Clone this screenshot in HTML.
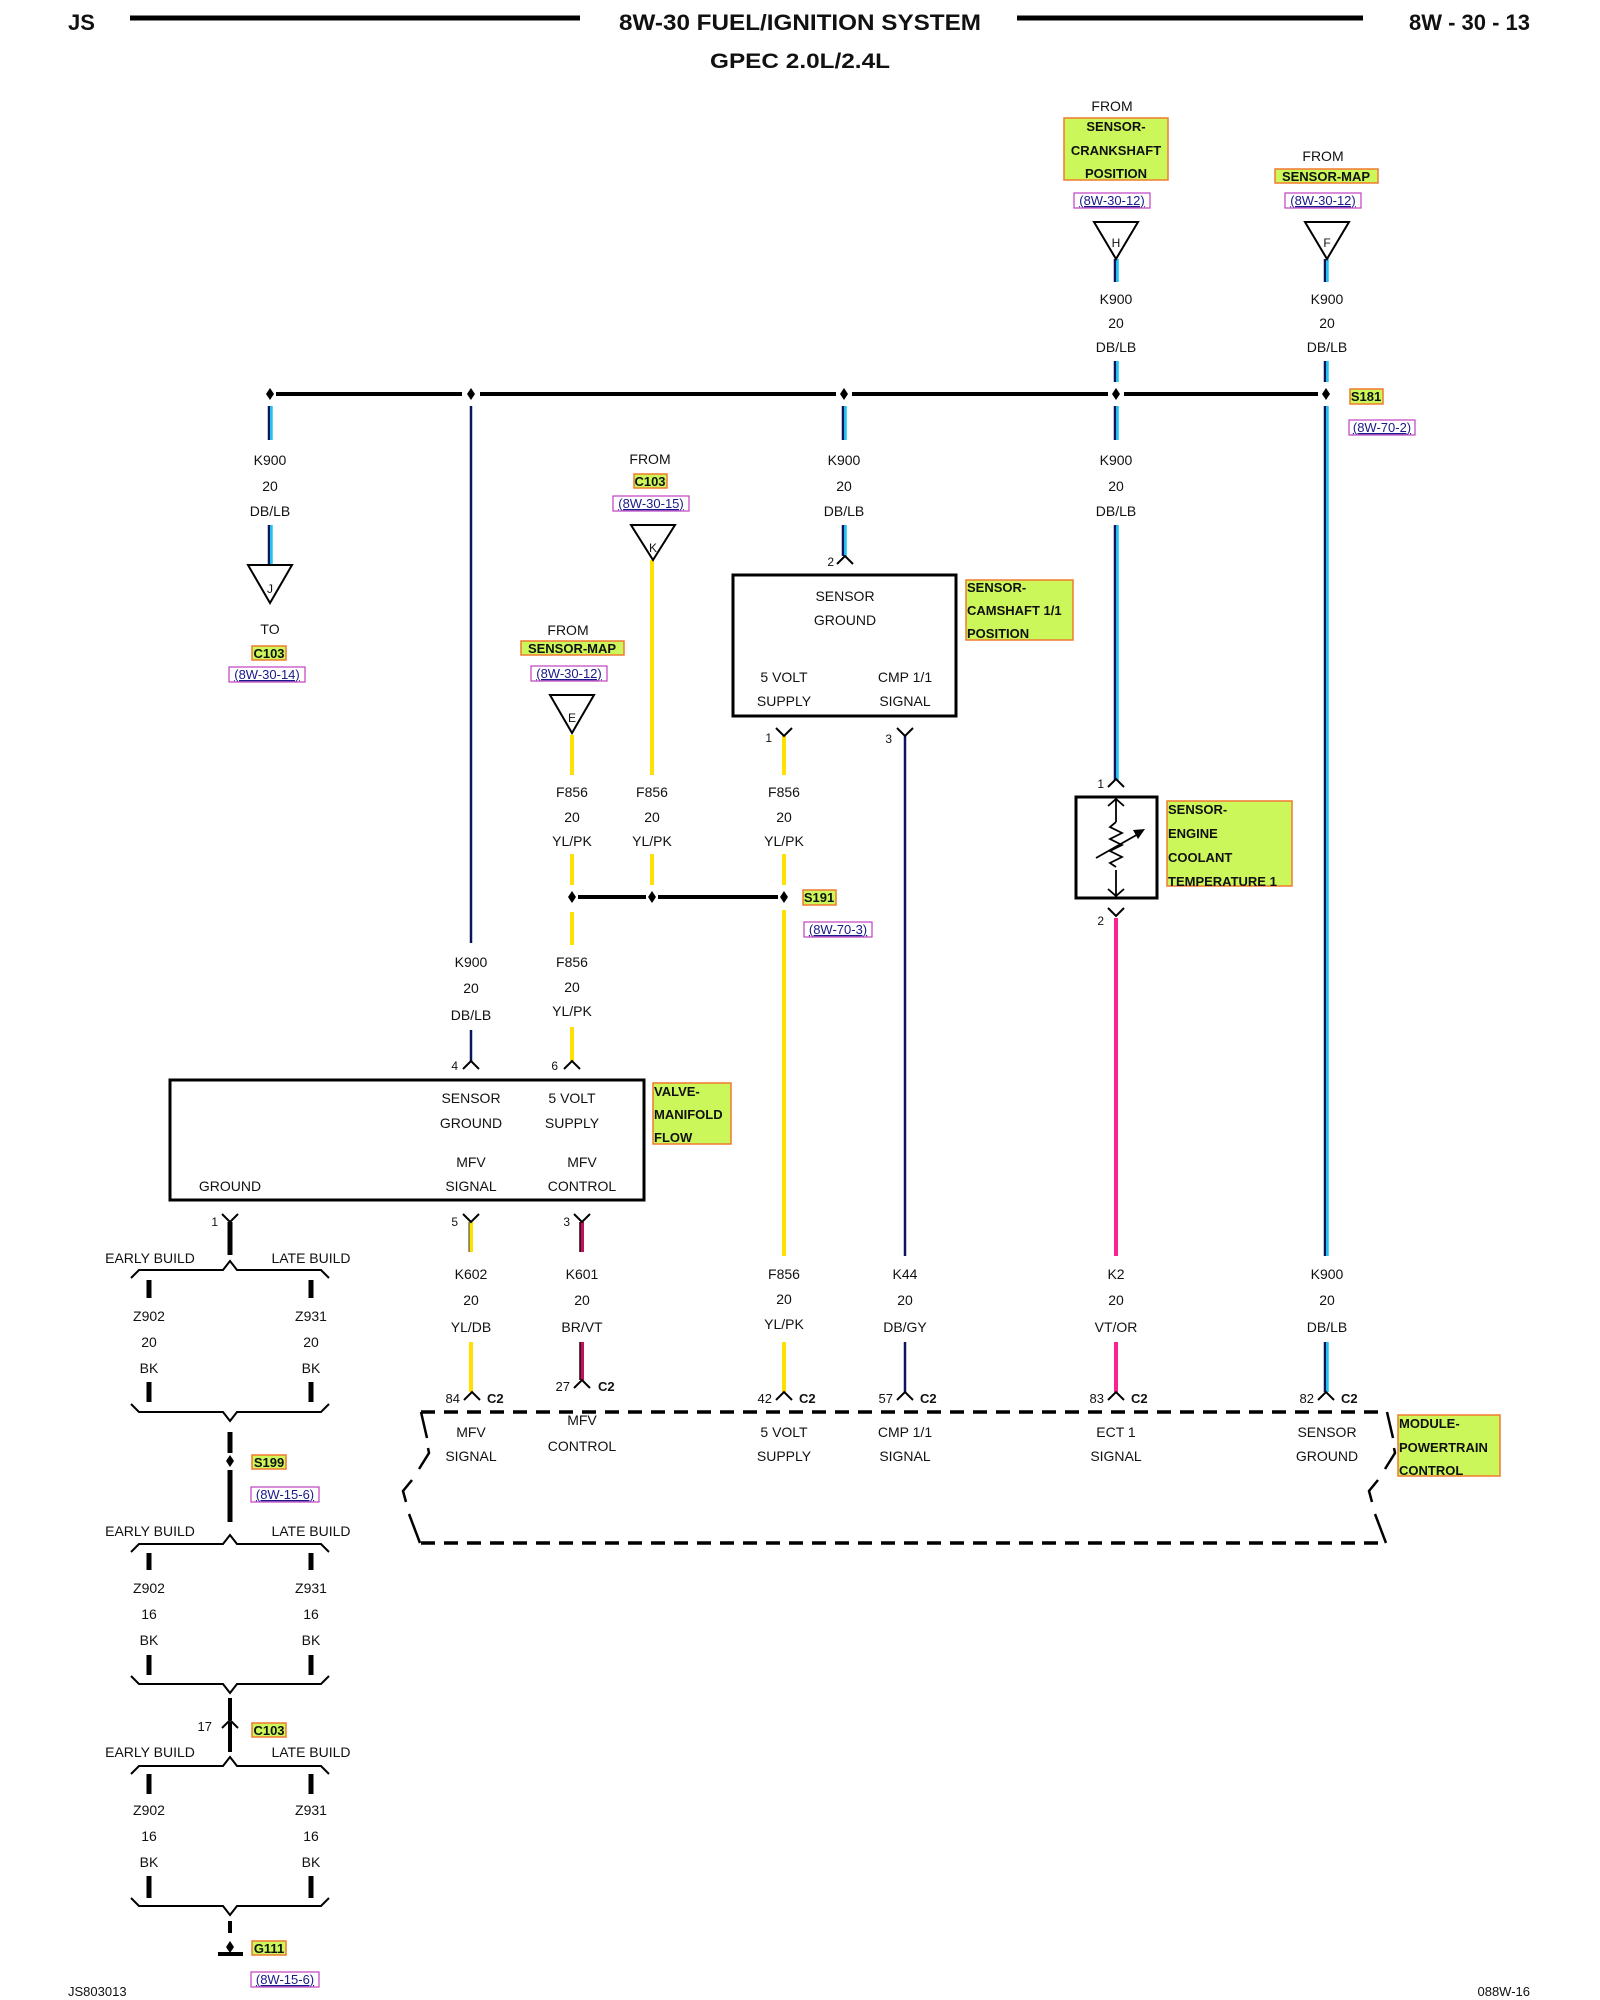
<!DOCTYPE html>
<html><head><meta charset="utf-8"><style>
html,body{margin:0;padding:0;background:#fff;}
svg{display:block;}
text{font-family:"Liberation Sans",sans-serif;font-size:14px;fill:#111;}
.c{text-anchor:middle;}
.b{font-weight:bold;}
.lk{fill:#1a1a8a;font-size:13px;text-decoration:underline;}
.k{stroke:#000;fill:none;}
.nv{stroke:#0a1560;stroke-width:2.5;}
.cy{stroke:#19c8f0;stroke-width:2.5;}
.yl{stroke:#ffe000;stroke-width:4;}
.mg{stroke:#ff2090;stroke-width:4;}
.gb{fill:#ccf75a;stroke:#f07a30;stroke-width:1.5;}
.lb{fill:#fff;stroke:#c040c0;stroke-width:1.2;}
</style></head><body>
<svg width="1600" height="2000" viewBox="0 0 1600 2000" xmlns="http://www.w3.org/2000/svg">
<text x="68" y="30" class="b" style="font-size:22px">JS</text>
<line x1="130" y1="18" x2="580" y2="18" stroke="#000" stroke-width="5"/>
<text x="800" y="30" class="b c" style="font-size:22px" textLength="362" lengthAdjust="spacingAndGlyphs">8W-30 FUEL/IGNITION SYSTEM</text>
<line x1="1017" y1="18" x2="1363" y2="18" stroke="#000" stroke-width="5"/>
<text x="1530" y="30" class="b" style="font-size:22px;text-anchor:end">8W - 30 - 13</text>
<text x="800" y="68" class="b c" style="font-size:21px" textLength="180" lengthAdjust="spacingAndGlyphs">GPEC 2.0L/2.4L</text>

<g stroke="#000" stroke-width="4">
<line x1="276" y1="394" x2="462" y2="394"/><line x1="480" y1="394" x2="836" y2="394"/>
<line x1="852" y1="394" x2="1108" y2="394"/><line x1="1124" y1="394" x2="1318" y2="394"/>
</g>
<g fill="#000">
<path d="M270 388l4 6-4 6-4-6z"/><path d="M471 388l4 6-4 6-4-6z"/><path d="M844 388l4 6-4 6-4-6z"/>
<path d="M1116 388l4 6-4 6-4-6z"/><path d="M1326 388l4 6-4 6-4-6z"/>
<path d="M572 891l4 6-4 6-4-6z"/><path d="M652 891l4 6-4 6-4-6z"/><path d="M784 891l4 6-4 6-4-6z"/>
<path d="M230 1455l4 6-4 6-4-6z"/>
</g>
<g stroke="#000" stroke-width="4"><line x1="578" y1="897" x2="646" y2="897"/><line x1="658" y1="897" x2="778" y2="897"/></g>

<g>
<line class="nv" x1="269" y1="406" x2="269" y2="440"/><line class="cy" x1="271.5" y1="406" x2="271.5" y2="440"/>
<line class="nv" x1="269" y1="525" x2="269" y2="565"/><line class="cy" x1="271.5" y1="525" x2="271.5" y2="565"/>
<line class="nv" x1="471" y1="406" x2="471" y2="943"/>
<line class="nv" x1="471" y1="1030" x2="471" y2="1062"/>
<line class="nv" x1="843" y1="406" x2="843" y2="440"/><line class="cy" x1="845.5" y1="406" x2="845.5" y2="440"/>
<line class="nv" x1="843" y1="525" x2="843" y2="556"/><line class="cy" x1="845.5" y1="525" x2="845.5" y2="556"/>
<line class="nv" x1="1115" y1="259" x2="1115" y2="282"/><line class="cy" x1="1117.5" y1="259" x2="1117.5" y2="282"/>
<line class="nv" x1="1115" y1="361" x2="1115" y2="382"/><line class="cy" x1="1117.5" y1="361" x2="1117.5" y2="382"/>
<line class="nv" x1="1115" y1="406" x2="1115" y2="440"/><line class="cy" x1="1117.5" y1="406" x2="1117.5" y2="440"/>
<line class="nv" x1="1115" y1="525" x2="1115" y2="780"/><line class="cy" x1="1117.5" y1="525" x2="1117.5" y2="780"/>
<line class="nv" x1="1325" y1="259" x2="1325" y2="282"/><line class="cy" x1="1327.5" y1="259" x2="1327.5" y2="282"/>
<line class="nv" x1="1325" y1="361" x2="1325" y2="382"/><line class="cy" x1="1327.5" y1="361" x2="1327.5" y2="382"/>
<line class="nv" x1="1325" y1="406" x2="1325" y2="1256"/><line class="cy" x1="1327.5" y1="406" x2="1327.5" y2="1256"/>
<line class="nv" x1="1325" y1="1342" x2="1325" y2="1392"/><line class="cy" x1="1327.5" y1="1342" x2="1327.5" y2="1392"/>
<line class="nv" x1="905" y1="736" x2="905" y2="1256"/>
<line class="nv" x1="905" y1="1342" x2="905" y2="1392"/>
</g>
<g>
<line class="yl" x1="652" y1="560" x2="652" y2="775"/><line class="yl" x1="652" y1="854" x2="652" y2="885"/>
<line class="yl" x1="572" y1="735" x2="572" y2="775"/><line class="yl" x1="572" y1="854" x2="572" y2="885"/>
<line class="yl" x1="572" y1="912" x2="572" y2="945"/><line class="yl" x1="572" y1="1027" x2="572" y2="1062"/>
<line class="yl" x1="784" y1="736" x2="784" y2="775"/><line class="yl" x1="784" y1="854" x2="784" y2="885"/>
<line class="yl" x1="784" y1="910" x2="784" y2="1256"/><line class="yl" x1="784" y1="1342" x2="784" y2="1392"/>
<line class="yl" x1="471" y1="1222" x2="471" y2="1252"/><line class="yl" x1="471" y1="1342" x2="471" y2="1392"/>
</g>
<line x1="469" y1="1222" x2="469" y2="1252" stroke="#333" stroke-width="1"/>
<line class="mg" x1="1116" y1="918" x2="1116" y2="1256"/><line class="mg" x1="1116" y1="1342" x2="1116" y2="1392"/>
<line class="mg" x1="582" y1="1222" x2="582" y2="1252" style="stroke:#c01060"/><line class="mg" x1="582" y1="1342" x2="582" y2="1380" style="stroke:#c01060"/>
<line x1="580" y1="1222" x2="580" y2="1252" stroke="#200" stroke-width="1.5"/><line x1="580" y1="1342" x2="580" y2="1380" stroke="#200" stroke-width="1.5"/>

<g class="k" stroke-width="2" fill="#fff">
<path d="M1094 222h44l-22 37z"/><path d="M1305 222h44l-22 37z"/>
<path d="M248 565h44l-22 38z"/><path d="M631 525h44l-22 35z"/><path d="M550 695h44l-22 38z"/>
</g>
<text x="1116" y="247" class="c" style="font-size:12px">H</text>
<text x="1327" y="247" class="c" style="font-size:12px">F</text>
<text x="270" y="593" class="c" style="font-size:12px">J</text>
<text x="653" y="552" class="c" style="font-size:12px">K</text>
<text x="572" y="722" class="c" style="font-size:12px">E</text>

<text x="1112" y="111" class="c">FROM</text>
<rect class="gb" x="1064" y="118" width="104" height="62"/>
<text x="1116" y="131" class="c b" style="font-size:13px">SENSOR-</text>
<text x="1116" y="155" class="c b" style="font-size:13px">CRANKSHAFT</text>
<text x="1116" y="178" class="c b" style="font-size:13px">POSITION</text>
<rect class="lb" x="1074" y="193" width="76" height="15"/><text x="1112" y="205" class="c lk">(8W-30-12)</text>
<text x="1323" y="161" class="c">FROM</text>
<rect class="gb" x="1275" y="169" width="103" height="14"/>
<text x="1326" y="181" class="c b" style="font-size:13px">SENSOR-MAP</text>
<rect class="lb" x="1285" y="193" width="76" height="15"/><text x="1323" y="205" class="c lk">(8W-30-12)</text>
<rect class="gb" x="1350" y="389" width="33" height="15"/><text x="1366" y="401" class="c b" style="font-size:13px">S181</text>
<rect class="lb" x="1349" y="420" width="66" height="15"/><text x="1382" y="432" class="c lk">(8W-70-2)</text>

<g class="c">
<text x="1116" y="304" class="c">K900</text><text x="1116" y="328" class="c">20</text><text x="1116" y="352" class="c">DB/LB</text>
<text x="1327" y="304" class="c">K900</text><text x="1327" y="328" class="c">20</text><text x="1327" y="352" class="c">DB/LB</text>
<text x="270" y="465" class="c">K900</text><text x="270" y="491" class="c">20</text><text x="270" y="516" class="c">DB/LB</text>
<text x="844" y="465" class="c">K900</text><text x="844" y="491" class="c">20</text><text x="844" y="516" class="c">DB/LB</text>
<text x="1116" y="465" class="c">K900</text><text x="1116" y="491" class="c">20</text><text x="1116" y="516" class="c">DB/LB</text>
<text x="650" y="464" class="c">FROM</text>
<rect class="gb" x="634" y="474" width="33" height="14"/><text x="650" y="486" class="c b" style="font-size:13px">C103</text>
<rect class="lb" x="613" y="496" width="76" height="15"/><text x="651" y="508" class="c lk">(8W-30-15)</text>
<text x="270" y="634" class="c">TO</text>
<rect class="gb" x="252" y="646" width="34" height="14"/><text x="269" y="658" class="c b" style="font-size:13px">C103</text>
<rect class="lb" x="229" y="667" width="76" height="15"/><text x="267" y="679" class="c lk">(8W-30-14)</text>
<text x="568" y="635" class="c">FROM</text>
<rect class="gb" x="521" y="641" width="103" height="14"/><text x="572" y="653" class="c b" style="font-size:13px">SENSOR-MAP</text>
<rect class="lb" x="531" y="666" width="76" height="15"/><text x="569" y="678" class="c lk">(8W-30-12)</text>

<text x="572" y="797" class="c">F856</text><text x="572" y="822" class="c">20</text><text x="572" y="846" class="c">YL/PK</text>
<text x="652" y="797" class="c">F856</text><text x="652" y="822" class="c">20</text><text x="652" y="846" class="c">YL/PK</text>
<text x="784" y="797" class="c">F856</text><text x="784" y="822" class="c">20</text><text x="784" y="846" class="c">YL/PK</text>
<rect class="gb" x="803" y="890" width="33" height="15"/><text x="819" y="902" class="c b" style="font-size:13px">S191</text>
<rect class="lb" x="804" y="922" width="68" height="15"/><text x="838" y="934" class="c lk">(8W-70-3)</text>
<text x="471" y="967" class="c">K900</text><text x="471" y="993" class="c">20</text><text x="471" y="1020" class="c">DB/LB</text>
<text x="572" y="967" class="c">F856</text><text x="572" y="992" class="c">20</text><text x="572" y="1016" class="c">YL/PK</text>
</g>

<rect x="733" y="575" width="223" height="141" fill="none" stroke="#000" stroke-width="3"/>
<text x="845" y="601" class="c">SENSOR</text><text x="845" y="625" class="c">GROUND</text>
<text x="784" y="682" class="c">5 VOLT</text><text x="784" y="706" class="c">SUPPLY</text>
<text x="905" y="682" class="c">CMP 1/1</text><text x="905" y="706" class="c">SIGNAL</text>
<rect class="gb" x="966" y="580" width="107" height="60"/>
<text x="967" y="592" class="b" style="font-size:13px">SENSOR-</text>
<text x="967" y="615" class="b" style="font-size:13px">CAMSHAFT 1/1</text>
<text x="967" y="638" class="b" style="font-size:13px">POSITION</text>

<rect x="1076" y="797" width="81" height="101" fill="none" stroke="#000" stroke-width="3"/>
<g stroke="#000" stroke-width="1.8" fill="none">
<line x1="1116" y1="800" x2="1116" y2="822"/><line x1="1116" y1="870" x2="1116" y2="895"/>
<path d="M1108 806l8-7 8 7M1108 889l8 7 8-7"/>
<path d="M1116 822l-6 5 12 6-12 6 12 6-12 6 12 6-12 6 6 4"/>
<line x1="1096" y1="858" x2="1140" y2="833"/>
</g>
<path d="M1145 829l-12 1 5 9z" fill="#000"/>
<rect class="gb" x="1167" y="801" width="125" height="85"/>
<text x="1168" y="814" class="b" style="font-size:13px">SENSOR-</text>
<text x="1168" y="838" class="b" style="font-size:13px">ENGINE</text>
<text x="1168" y="862" class="b" style="font-size:13px">COOLANT</text>
<text x="1168" y="886" class="b" style="font-size:13px">TEMPERATURE 1</text>

<rect x="170" y="1080" width="474" height="120" fill="none" stroke="#000" stroke-width="3"/>
<text x="471" y="1103" class="c">SENSOR</text><text x="471" y="1128" class="c">GROUND</text>
<text x="572" y="1103" class="c">5 VOLT</text><text x="572" y="1128" class="c">SUPPLY</text>
<text x="471" y="1167" class="c">MFV</text><text x="471" y="1191" class="c">SIGNAL</text>
<text x="582" y="1167" class="c">MFV</text><text x="582" y="1191" class="c">CONTROL</text>
<text x="230" y="1191" class="c">GROUND</text>
<rect class="gb" x="653" y="1083" width="78" height="61"/>
<text x="654" y="1096" class="b" style="font-size:13px">VALVE-</text>
<text x="654" y="1119" class="b" style="font-size:13px">MANIFOLD</text>
<text x="654" y="1142" class="b" style="font-size:13px">FLOW</text>

<g stroke="#000" stroke-width="2" fill="none">
<path d="M837 564l8-8 8 8"/>
<path d="M1108 787l8-8 8 8"/>
<path d="M463 1069l8-8 8 8"/><path d="M564 1069l8-8 8 8"/>
<path d="M464 1400l8-8 8 8"/><path d="M574 1388l8-8 8 8"/><path d="M776 1400l8-8 8 8"/>
<path d="M897 1400l8-8 8 8"/><path d="M1108 1400l8-8 8 8"/><path d="M1318 1400l8-8 8 8"/>
<path d="M776 728l8 8 8-8"/><path d="M897 728l8 8 8-8"/>
<path d="M1108 908l8 8 8-8"/>
<path d="M222 1214l8 8 8-8"/><path d="M463 1214l8 8 8-8"/><path d="M574 1214l8 8 8-8"/>
</g>
<text x="834" y="566" style="font-size:12px;text-anchor:end">2</text>
<text x="772" y="742" style="font-size:12px;text-anchor:end">1</text>
<text x="892" y="743" style="font-size:12px;text-anchor:end">3</text>
<text x="1104" y="788" style="font-size:12px;text-anchor:end">1</text>
<text x="1104" y="925" style="font-size:12px;text-anchor:end">2</text>
<text x="458" y="1070" style="font-size:12px;text-anchor:end">4</text>
<text x="558" y="1070" style="font-size:12px;text-anchor:end">6</text>
<text x="218" y="1226" style="font-size:12px;text-anchor:end">1</text>
<text x="458" y="1226" style="font-size:12px;text-anchor:end">5</text>
<text x="570" y="1226" style="font-size:12px;text-anchor:end">3</text>

<text x="471" y="1279" class="c">K602</text><text x="471" y="1305" class="c">20</text><text x="471" y="1332" class="c">YL/DB</text>
<text x="582" y="1279" class="c">K601</text><text x="582" y="1305" class="c">20</text><text x="582" y="1332" class="c">BR/VT</text>
<text x="784" y="1279" class="c">F856</text><text x="784" y="1304" class="c">20</text><text x="784" y="1329" class="c">YL/PK</text>
<text x="905" y="1279" class="c">K44</text><text x="905" y="1305" class="c">20</text><text x="905" y="1332" class="c">DB/GY</text>
<text x="1116" y="1279" class="c">K2</text><text x="1116" y="1305" class="c">20</text><text x="1116" y="1332" class="c">VT/OR</text>
<text x="1327" y="1279" class="c">K900</text><text x="1327" y="1305" class="c">20</text><text x="1327" y="1332" class="c">DB/LB</text>

<text x="460" y="1403" style="font-size:13px;text-anchor:end">84</text><text x="487" y="1403" class="b" style="font-size:13px">C2</text>
<text x="570" y="1391" style="font-size:13px;text-anchor:end">27</text><text x="598" y="1391" class="b" style="font-size:13px">C2</text>
<text x="772" y="1403" style="font-size:13px;text-anchor:end">42</text><text x="799" y="1403" class="b" style="font-size:13px">C2</text>
<text x="893" y="1403" style="font-size:13px;text-anchor:end">57</text><text x="920" y="1403" class="b" style="font-size:13px">C2</text>
<text x="1104" y="1403" style="font-size:13px;text-anchor:end">83</text><text x="1131" y="1403" class="b" style="font-size:13px">C2</text>
<text x="1314" y="1403" style="font-size:13px;text-anchor:end">82</text><text x="1341" y="1403" class="b" style="font-size:13px">C2</text>

<g stroke="#000" stroke-width="3.5" fill="none" stroke-dasharray="14 9">
<line x1="421" y1="1412" x2="1387" y2="1412"/>
<line x1="421" y1="1543" x2="1387" y2="1543"/>
</g>
<g stroke="#000" stroke-width="2.5" fill="none">
<path d="M421 1412l6 26"/><path d="M428 1448l1 5-10 16"/><path d="M412 1480l-9 11 3 11"/><path d="M409 1514l11 29"/>
<path d="M1387 1412l6 26"/><path d="M1394 1448l1 5-10 16"/><path d="M1378 1480l-9 11 3 11"/><path d="M1375 1514l11 29"/>
</g>
<text x="471" y="1437" class="c">MFV</text><text x="471" y="1461" class="c">SIGNAL</text>
<text x="582" y="1425" class="c">MFV</text><text x="582" y="1451" class="c">CONTROL</text>
<text x="784" y="1437" class="c">5 VOLT</text><text x="784" y="1461" class="c">SUPPLY</text>
<text x="905" y="1437" class="c">CMP 1/1</text><text x="905" y="1461" class="c">SIGNAL</text>
<text x="1116" y="1437" class="c">ECT 1</text><text x="1116" y="1461" class="c">SIGNAL</text>
<text x="1327" y="1437" class="c">SENSOR</text><text x="1327" y="1461" class="c">GROUND</text>
<rect class="gb" x="1398" y="1415" width="102" height="61"/>
<text x="1399" y="1428" class="b" style="font-size:13px">MODULE-</text>
<text x="1399" y="1452" class="b" style="font-size:13px">POWERTRAIN</text>
<text x="1399" y="1475" class="b" style="font-size:13px">CONTROL</text>

<g stroke="#000" fill="none">
<line x1="230" y1="1222" x2="230" y2="1255" stroke-width="5"/>
<path d="M131 1278l8-8h84l7-9 7 9h84l8 8" stroke-width="2"/>
<line x1="149" y1="1280" x2="149" y2="1298" stroke-width="5"/><line x1="311" y1="1280" x2="311" y2="1298" stroke-width="5"/>
<line x1="149" y1="1382" x2="149" y2="1402" stroke-width="5"/><line x1="311" y1="1382" x2="311" y2="1402" stroke-width="5"/>
<path d="M131 1404l8 8h84l7 9 7-9h84l8-8" stroke-width="2"/>
<line x1="230" y1="1432" x2="230" y2="1453" stroke-width="5"/>
<line x1="230" y1="1470" x2="230" y2="1522" stroke-width="5"/>
<path d="M131 1552l8-8h84l7-9 7 9h84l8 8" stroke-width="2"/>
<line x1="149" y1="1553" x2="149" y2="1570" stroke-width="5"/><line x1="311" y1="1553" x2="311" y2="1570" stroke-width="5"/>
<line x1="149" y1="1655" x2="149" y2="1675" stroke-width="5"/><line x1="311" y1="1655" x2="311" y2="1675" stroke-width="5"/>
<path d="M131 1676l8 8h84l7 9 7-9h84l8-8" stroke-width="2"/>
<line x1="230" y1="1698" x2="230" y2="1720" stroke-width="4"/>
<path d="M222 1728l8-8 8 8" stroke-width="2"/>
<line x1="230" y1="1722" x2="230" y2="1752" stroke-width="4"/>
<path d="M131 1774l8-8h84l7-9 7 9h84l8 8" stroke-width="2"/>
<line x1="149" y1="1774" x2="149" y2="1794" stroke-width="5"/><line x1="311" y1="1774" x2="311" y2="1794" stroke-width="5"/>
<line x1="149" y1="1876" x2="149" y2="1898" stroke-width="5"/><line x1="311" y1="1876" x2="311" y2="1898" stroke-width="5"/>
<path d="M131 1898l8 8h84l7 9 7-9h84l8-8" stroke-width="2"/>
<line x1="230" y1="1921" x2="230" y2="1933" stroke-width="4"/>
<line x1="218" y1="1954" x2="243" y2="1954" stroke-width="4"/>
</g>
<path d="M230 1941l4 6-4 6-4-6z" fill="#000"/>
<text x="150" y="1263" class="c">EARLY BUILD</text>
<text x="311" y="1263" class="c">LATE BUILD</text>
<text x="149" y="1321" class="c">Z902</text><text x="149" y="1347" class="c">20</text><text x="149" y="1373" class="c">BK</text>
<text x="311" y="1321" class="c">Z931</text><text x="311" y="1347" class="c">20</text><text x="311" y="1373" class="c">BK</text>
<rect class="gb" x="252" y="1455" width="34" height="14"/><text x="269" y="1467" class="c b" style="font-size:13px">S199</text>
<rect class="lb" x="251" y="1487" width="68" height="15"/><text x="285" y="1499" class="c lk">(8W-15-6)</text>
<text x="150" y="1536" class="c">EARLY BUILD</text><text x="311" y="1536" class="c">LATE BUILD</text>
<text x="149" y="1593" class="c">Z902</text><text x="149" y="1619" class="c">16</text><text x="149" y="1645" class="c">BK</text>
<text x="311" y="1593" class="c">Z931</text><text x="311" y="1619" class="c">16</text><text x="311" y="1645" class="c">BK</text>
<text x="212" y="1731" style="font-size:13px;text-anchor:end">17</text>
<rect class="gb" x="252" y="1723" width="34" height="14"/><text x="269" y="1735" class="c b" style="font-size:13px">C103</text>
<text x="150" y="1757" class="c">EARLY BUILD</text><text x="311" y="1757" class="c">LATE BUILD</text>
<text x="149" y="1815" class="c">Z902</text><text x="149" y="1841" class="c">16</text><text x="149" y="1867" class="c">BK</text>
<text x="311" y="1815" class="c">Z931</text><text x="311" y="1841" class="c">16</text><text x="311" y="1867" class="c">BK</text>
<rect class="gb" x="252" y="1941" width="34" height="14"/><text x="269" y="1953" class="c b" style="font-size:13px">G111</text>
<rect class="lb" x="251" y="1972" width="68" height="15"/><text x="285" y="1984" class="c lk">(8W-15-6)</text>
<text x="68" y="1996" style="font-size:13px">JS803013</text>
<text x="1530" y="1996" style="font-size:13px;text-anchor:end">088W-16</text>
</svg>
</body></html>
